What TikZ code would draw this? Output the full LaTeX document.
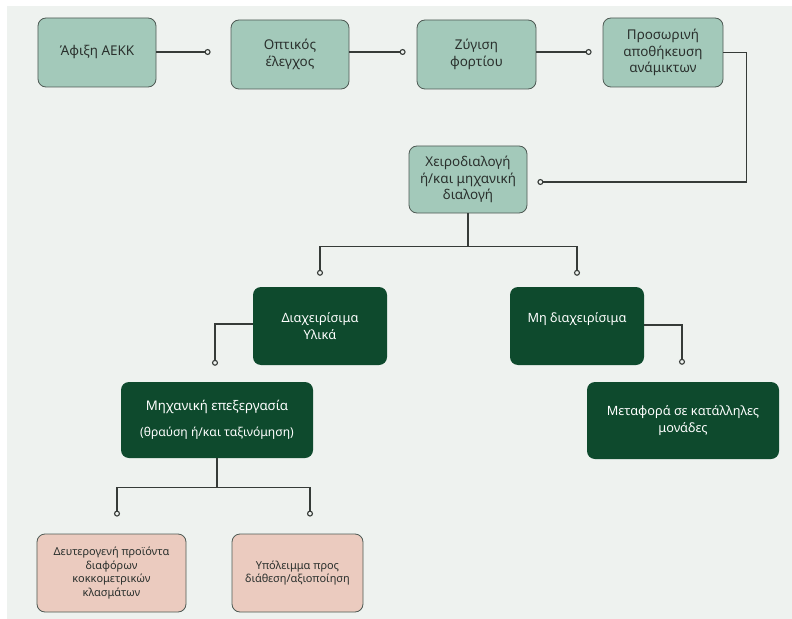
\documentclass[tikz,border=0pt]{standalone}
\usepackage{fontspec}
\setmainfont{Noto Sans}
\usetikzlibrary{arrows.meta,calc}
\definecolor{bgc}{HTML}{EEF2EF}
\definecolor{lightc}{HTML}{A3C9BA}
\definecolor{darkc}{HTML}{0E4A2D}
\definecolor{pinkc}{HTML}{EBCBBF}
\definecolor{edgec}{HTML}{4E5A54}
\definecolor{linec}{HTML}{363B38}
\definecolor{txt}{HTML}{2A302D}
\begin{document}
\begin{tikzpicture}[x=1bp,y=-1bp,
  box/.style={rectangle, rounded corners=8bp, align=center, inner sep=0pt, text=txt},
  light/.style={box, fill=lightc, draw=edgec, line width=0.8bp, font=\fontsize{13.5}{16.5}\selectfont},
  darkb/.style={box, fill=darkc, text=white, font=\fontsize{12.8}{16.5}\selectfont},
  pinkb/.style={box, fill=pinkc, draw=edgec, line width=0.8bp, font=\fontsize{11}{13.5}\selectfont},
  conn/.style={draw=linec, line width=1.2bp, -{Circle[open, length=6bp, line width=1.1bp]}},
  link/.style={draw=linec, line width=1.2bp}]

% page and background panel
\useasboundingbox (0,0) rectangle (792,619);
\fill[white] (0,0) rectangle (792,619);
\fill[bgc] (7,6) rectangle (792,619);

% top row
\node[light, minimum width=118bp, minimum height=69bp] (afixi) at (97,52.5) {Άφιξη ΑΕΚΚ};
\node[light, minimum width=118bp, minimum height=69bp] (optikos) at (290,54.5) {Οπτικός\\έλεγχος};
\node[light, minimum width=119bp, minimum height=69bp] (zygisi) at (476.5,54.5) {Ζύγιση\\φορτίου};
\node[light, minimum width=120bp, minimum height=69bp] (prosor) at (663,52.5) {Προσωρινή\\αποθήκευση\\ανάμικτων};

% sorting
\node[light, minimum width=118bp, minimum height=67bp] (xeiro) at (468,179.5) {Χειροδιαλογή\\ή/και μηχανική\\διαλογή};

% manageable / non-manageable
\node[darkb, minimum width=134bp, minimum height=78bp] (diax) at (320,326) {Διαχειρίσιμα\\Υλικά};
\node[darkb, minimum width=134bp, minimum height=78bp] (mhdiax) at (577,326) {Μη διαχειρίσιμα\\\mbox{}};
\node[darkb, minimum width=192bp, minimum height=76bp] (mhxan) at (217,420) {{\fontsize{13.3}{16}\selectfont Μηχανική επεξεργασία}\\[10bp]{\fontsize{12.2}{15}\selectfont(θραύση ή/και ταξινόμηση)}};
\node[darkb, minimum width=192bp, minimum height=77bp] (metafora) at (683,420.5) {Μεταφορά σε κατάλληλες\\μονάδες};

% outputs
\node[pinkb, minimum width=149bp, minimum height=78bp] (deut) at (111.5,573) {Δευτερογενή προϊόντα\\διαφόρων\\κοκκομετρικών\\κλασμάτων};
\node[pinkb, minimum width=131bp, minimum height=78bp] (ypol) at (297.5,573) {Υπόλειμμα προς\\διάθεση/αξιοποίηση};

% connector end points
\coordinate (e1) at ($(optikos.west)+(-20,-2.5)$);
\coordinate (e2) at ($(zygisi.west)+(-11,-2.5)$);
\coordinate (e3) at ($(prosor.west)+(-11,-0.5)$);
\coordinate (e4) at ($(xeiro.east)+(10,2.5)$);
\coordinate (e5) at ($(diax.north)+(0,-11)$);
\coordinate (e6) at ($(mhdiax.north)+(0,-11)$);
\coordinate (e7) at ($(mhxan.north)+(-2,-16)$);
\coordinate (e8) at ($(metafora.north)+(-1,-17)$);
\coordinate (e9) at ($(deut.north)+(5.5,-17)$);
\coordinate (e10) at ($(ypol.north)+(12.5,-17)$);

% connectors
\draw[conn] (afixi.east |- e1) -- (e1);
\draw[conn] (optikos.east |- e2) -- (e2);
\draw[conn] (zygisi.east |- e3) -- (e3);
\draw[conn] (prosor.east) -- ++(23,0) |- (e4);
\draw[link] (xeiro.south) -- ++(0,33) coordinate (b1);
\draw[conn] (b1) -| (e5);
\draw[conn] (b1) -| (e6);
\draw[conn] ($(diax.west)+(0,-2)$) -| (e7);
\draw[conn] ($(mhdiax.east)+(0,-1)$) -| (e8);
\draw[link] (mhxan.south) -- ++(0,29) coordinate (b2);
\draw[conn] (b2) -| (e9);
\draw[conn] (b2) -| (e10);
\end{tikzpicture}
\end{document}
